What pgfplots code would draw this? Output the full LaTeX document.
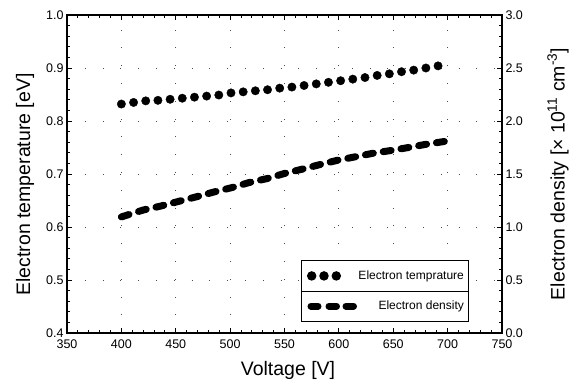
\documentclass[border=0pt]{standalone}
\usepackage{pgfplots}
\pgfplotsset{compat=1.18}
\usepackage{fontspec}
\setmainfont{Liberation Sans}
\begin{document}
\begin{tikzpicture}
\pgfplotsset{
  common/.style={
    scale only axis, width=435pt, height=318pt,
    xmin=350, xmax=750,
    tick align=inside,
    major tick length=5pt, minor tick length=3pt,
    every tick/.style={black, line width=0.9pt},
    axis line style={line width=1.3pt},
    /pgf/number format/assume math mode=true,
    ticklabel style={font=\fontsize{12.5}{14}\selectfont},
    label style={font=\fontsize{19.5}{22}\selectfont},
  }
}
\begin{axis}[common, name=ax1,
  ymin=0.4, ymax=1.0,
  xtick={350,400,...,750}, ytick={0.4,0.5,...,1.0},
  minor x tick num=4, minor y tick num=4,
  xtick pos=both, ytick pos=left,
  yticklabel style={/pgf/number format/.cd, fixed, fixed zerofill, precision=1},
  xticklabel style={yshift=-3pt, /pgf/number format/.cd, fixed, precision=0},
  grid=major,
  major grid style={black!70, line width=0.8pt, dash pattern=on 0.8pt off 17pt},
  xlabel={Voltage [V]},
  ylabel={Electron temperature [eV]},
  xlabel style={at={([yshift=-37pt]rel axis cs:0.508,0)}, anchor=center},
  ylabel style={at={([xshift=-42pt]rel axis cs:0,0.467)}, anchor=center},
]
\addplot[only marks, mark=*, mark size=4.2pt, black] coordinates {
(400.0,0.832) (411.2,0.835) (422.4,0.838) (433.6,0.839) (444.8,0.841)
(456.0,0.843) (467.2,0.845) (478.4,0.847) (489.6,0.849) (500.8,0.853)
(512.0,0.855) (523.2,0.857) (534.4,0.859) (545.6,0.862) (556.8,0.864)
(568.0,0.867) (579.2,0.870) (590.4,0.873) (601.6,0.876) (612.8,0.879)
(624.0,0.882) (635.2,0.886) (646.4,0.889) (657.6,0.893) (668.8,0.896)
(680.0,0.900) (691.2,0.904)
};
\end{axis}
\begin{axis}[common,
  ymin=0, ymax=3,
  axis y line*=right, axis x line=none,
  ytick={0,0.5,...,3}, minor y tick num=4,
  yticklabel style={/pgf/number format/.cd, fixed, fixed zerofill, precision=1},
  ylabel={Electron density [× 10\textsuperscript{11} cm\textsuperscript{-3}]},
  ylabel style={at={([xshift=56pt]rel axis cs:1,0.5)}, anchor=center},
  legend cell align=right,
  legend style={name=leg, at={(rel axis cs:0.925,0.0355)}, anchor=south east,
    draw=black, line width=1pt, font=\fontsize{12}{14}\selectfont,
    inner xsep=5pt, inner ysep=10pt, row sep=20pt, column sep=1pt,
    nodes={inner sep=0pt}},
]
\addlegendimage{legend image code/.code={
  \path[draw=none, fill=none] (0pt,-4pt) rectangle (50pt,4pt);
  \fill[black] (4.2pt,0) circle (4.2pt);
  \fill[black] (16.5pt,0) circle (4.2pt);
  \fill[black] (28.8pt,0) circle (4.2pt);
}}
\addlegendentry{Electron temprature}
\addplot[black, line width=7pt, line cap=round, dash pattern=on 8pt off 10pt,
  legend image code/.code={
  \path[draw=none, fill=none] (0pt,-4pt) rectangle (50pt,4pt);
  \draw[black, line width=7pt, line cap=round, solid] (3.5pt,0)--(10.5pt,0) (21.5pt,0)--(29pt,0) (38.5pt,0)--(46pt,0);
}] coordinates {
(400,1.095) (420,1.160) (436,1.197) (452,1.240) (469,1.285) (485,1.330)
(501,1.370) (517,1.418) (534,1.457) (550,1.505) (566,1.545) (583,1.590)
(599,1.630) (615,1.662) (631,1.695) (648,1.722) (664,1.750) (680,1.780)
(699,1.810)
};
\addlegendentry{Electron density}
\end{axis}
\draw[line width=1pt] (leg.west) -- (leg.east);
\pgfresetboundingbox
\path[use as bounding box] ([shift={(-67pt,-48pt)}]ax1.south west) rectangle ([shift={(72pt,15pt)}]ax1.north east);
\end{tikzpicture}
\end{document}
